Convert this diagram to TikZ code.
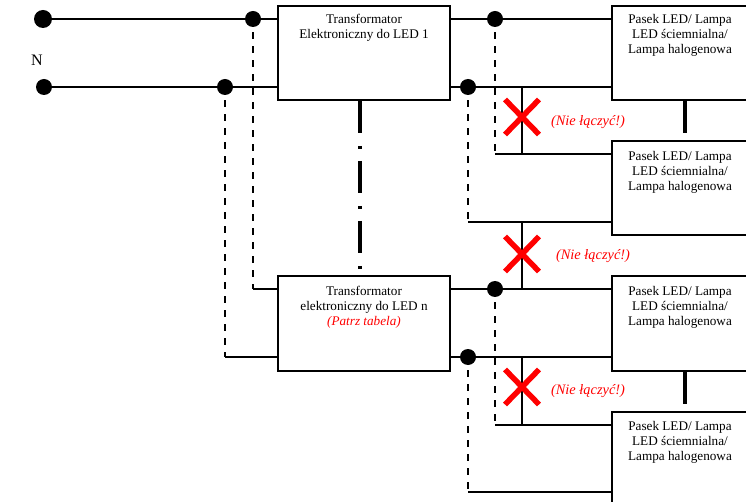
\documentclass[tikz,border=0pt]{standalone}
\usepackage{fontspec}
\setmainfont{Liberation Serif}
\tikzset{
  x=1pt,y=-1pt,
  wire/.style={line width=1.6pt,black},
  dashwire/.style={line width=1.6pt,black,dash pattern=on 7pt off 7pt,dash phase=9pt},
  thick link/.style={line width=3.8pt,black},
  dashdot link/.style={line width=3.8pt,black,dash pattern=on 32pt off 13pt on 3pt off 12pt},
  dot/.style={circle,fill=black,draw=none,inner sep=0pt,minimum size=16pt},
  tbox/.style={rectangle,draw=black,line width=2pt,minimum width=172pt,minimum height=94pt,inner sep=0pt},
  lbox/.style={rectangle,draw=black,line width=2pt,minimum width=136pt,minimum height=94pt,inner sep=0pt},
  boxtext/.style={align=center,anchor=north,inner sep=0pt,font=\fontsize{13.2}{15.2}\selectfont},
  warn/.style={text=red,font=\fontsize{14.4}{16}\selectfont\itshape,inner sep=0pt},
  cross/.style={line width=5.5pt,red}
}
\begin{document}
\begin{tikzpicture}
\useasboundingbox (0,0) rectangle (746,502);
% boxes
\node[tbox] (T1) at (364,53) {};
\node[tbox] (T2) at (364,323.5) {};
\node[lbox] (L1) at (680,53) {};
\node[lbox] (L2) at (680,188.5) {};
\node[lbox] (L3) at (680,323.5) {};
\node[lbox] (L4) at (680,458.5) {};
% box texts
\node[boxtext] (T1t) at (364,14) {Transformator\\Elektroniczny do LED 1};
\node[boxtext] (T2t) at (364,286) {Transformator\\elektroniczny do LED n\\{\itshape\color{red}(Patrz tabela)}};
\node[boxtext] (L1t) at (680,14) {Pasek LED/ Lampa\\LED ściemnialna/\\Lampa halogenowa};
\node[boxtext] (L2t) at (680,151) {Pasek LED/ Lampa\\LED ściemnialna/\\Lampa halogenowa};
\node[boxtext] (L3t) at (680,286) {Pasek LED/ Lampa\\LED ściemnialna/\\Lampa halogenowa};
\node[boxtext] (L4t) at (680,421) {Pasek LED/ Lampa\\LED ściemnialna/\\Lampa halogenowa};
\node[inner sep=0pt,font=\fontsize{16}{18}\selectfont] (N) at (37,60.5) {N};
% dots
\node[dot,minimum size=18pt] (a) at (43,19) {};
\node[dot] (b) at (253,19) {};
\node[dot] (c) at (44,87) {};
\node[dot] (d) at (225,87) {};
\node[dot] (e) at (495,19) {};
\node[dot] (f) at (468,87) {};
\node[dot] (g) at (495,289) {};
\node[dot] (h) at (468,357) {};
% corners
\coordinate (b1) at (253,289);
\coordinate (d1) at (225,357);
\coordinate (e1) at (495,154);
\coordinate (f1) at (468,222);
\coordinate (g1) at (495,425);
\coordinate (h1) at (468,492);
% input wires
\draw[wire] (a) -- (b) -- (b -| T1.west);
\draw[line width=2.4pt] (a) -- (80,19);
\draw[wire] (c) -- (d) -- (d -| T1.west);
\draw[dashwire] (b.south) -- (b1);
\draw[wire] (b1) -- (b1 -| T2.west);
\draw[dashwire] (d.south) -- (d1);
\draw[wire] (d1) -- (d1 -| T2.west);
% output wires
\draw[wire] (e -| T1.east) -- (e) -- (e -| L1.west);
\draw[wire] (f -| T1.east) -- (f) -- (f -| L1.west);
\draw[wire] (g -| T2.east) -- (g) -- (g -| L3.west);
\draw[wire] (h -| T2.east) -- (h) -- (h -| L3.west);
\draw[dashwire] (e.south) -- (e1);
\draw[dashwire] (f.south) -- (f1);
\draw[dashwire] (g.south) -- (g1);
\draw[dashwire] (h.south) -- (h1);
\draw[wire] (e1) -- (e1 -| L2.west);
\draw[wire] (f1) -- (f1 -| L2.west);
\draw[wire] (g1) -- (g1 -| L4.west);
\draw[wire] (h1) -- (h1 -| L4.west);
% forbidden links
\coordinate (x1) at (522,87); \coordinate (x2) at (522,154);
\coordinate (x3) at (522,222); \coordinate (x4) at (522,289);
\coordinate (x5) at (522,357); \coordinate (x6) at (522,425);
\draw[wire] (x1) -- (x2);
\draw[wire] (x3) -- (x4);
\draw[wire] (x5) -- (x6);
\foreach \cy in {117,254,387}{
  \draw[cross] (505,\cy-17.5) -- (539,\cy+17.5);
  \draw[cross] (539,\cy-17.5) -- (505,\cy+17.5);
}
\node[warn] (w1) at (588,122.5) {(Nie łączyć!)};
\node[warn] (w2) at (593,256) {(Nie łączyć!)};
\node[warn] (w3) at (588,391.5) {(Nie łączyć!)};
% thick links
\draw[dashdot link] (T1.south -| 360,0) -- (T2.north -| 360,0);
\draw[thick link] (L1.south -| 685,0) -- ++(0,32);
\draw[thick link] (L3.south -| 685,0) -- ++(0,32);
\end{tikzpicture}
\end{document}
